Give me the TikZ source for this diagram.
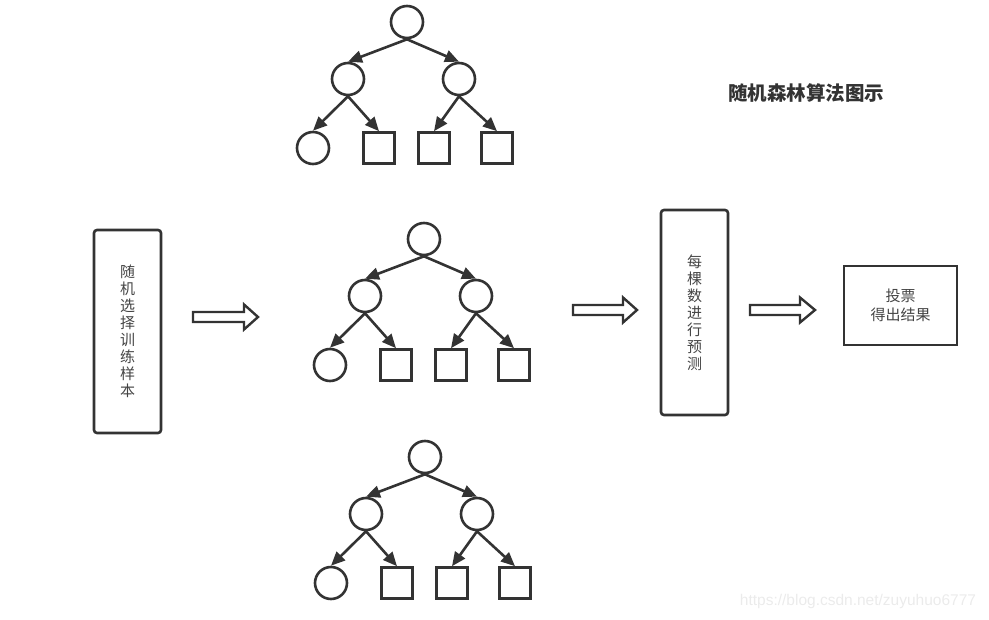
\documentclass[tikz,border=0pt]{standalone}
\usepackage{fontspec}
\setmainfont{Noto Sans CJK SC}
\newfontfamily\wmfont{Liberation Sans}
\usepackage{tikz}
\usetikzlibrary{arrows.meta}
\definecolor{ink}{HTML}{333333}
\definecolor{txt}{HTML}{444444}
\definecolor{wm}{HTML}{EBEBEB}

\begin{document}
\begin{tikzpicture}[x=1pt, y=-1pt,
  rfcircle/.style={draw=ink, line width=2.6pt, circle, minimum size=32pt, inner sep=0pt},
  rfleaf/.style={draw=ink, line width=2.6pt, rectangle, minimum size=31pt, inner sep=0pt},
  rfedge/.style={draw=ink, line width=2.6pt, -{Triangle[length=14pt,width=12pt]}},
  stagebox/.style={draw=ink, line width=2.6pt, rectangle, inner sep=0pt, text=txt, font=\fontsize{15}{17}\selectfont, align=center},
  hollow/.style={draw=ink, line width=2.4pt, line join=miter}]
\useasboundingbox (0,0) rectangle (989,620);
%three trees
\foreach \t/\tx/\ty in {a/407/22, b/424/239, c/425/457}{
  \begin{scope}[shift={(\tx,\ty)}]
  \node[rfcircle] (\t r) at (0,0) {};
  \node[rfcircle] (\t l) at (-59,57) {};
  \node[rfcircle] (\t m) at (52,57) {};
  \node[rfcircle] (\t 1) at (-94,126) {};
  \node[rfleaf] (\t 2) at (-28,126) {};
  \node[rfleaf] (\t 3) at (27,126) {};
  \node[rfleaf] (\t 4) at (90,126) {};
  \draw[rfedge] (\t r.south) -- (\t l.north);
  \draw[rfedge] (\t r.south) -- (\t m.north);
  \draw[rfedge] (\t l.south) -- (\t 1.north);
  \draw[rfedge] (\t l.south) -- (\t 2.north);
  \draw[rfedge] (\t m.south) -- (\t 3.north);
  \draw[rfedge] (\t m.south) -- (\t 4.north);
  \end{scope}
}
%boxes
\node[stagebox, rounded corners=3pt, minimum width=67pt, minimum height=203pt] (sample) at (127.5,331.5) {随\\机\\选\\择\\训\\练\\样\\本};
\node[stagebox, rounded corners=3pt, minimum width=67pt, minimum height=205pt] (predict) at (694.5,312.5) {每\\棵\\数\\进\\行\\预\\测};
\node[stagebox, minimum width=113pt, minimum height=79pt, font=\fontsize{15}{19}\selectfont] (vote) at (900.5,305.5) {投票\\得出结果};
%hollow arrows
\foreach \xa/\xb/\xc/\yy in {193/244/258/317, 573/623/637/310, 750/800/815/310}{
  \draw[hollow] (\xa,\yy-5) -- (\xb,\yy-5) -- (\xb,\yy-12.5) -- (\xc,\yy) -- (\xb,\yy+12.5) -- (\xb,\yy+5) -- (\xa,\yy+5) -- cycle;
}
%title
\node[text=ink, font=\fontsize{19.5}{22}\selectfont\bfseries] (title) at (806,93) {随机森林算法图示};
\node[text=wm, font=\wmfont\fontsize{15.5}{17}\selectfont] (mark) at (858,601) {https://blog.csdn.net/zuyuhuo6777};
\end{tikzpicture}
\end{document}
